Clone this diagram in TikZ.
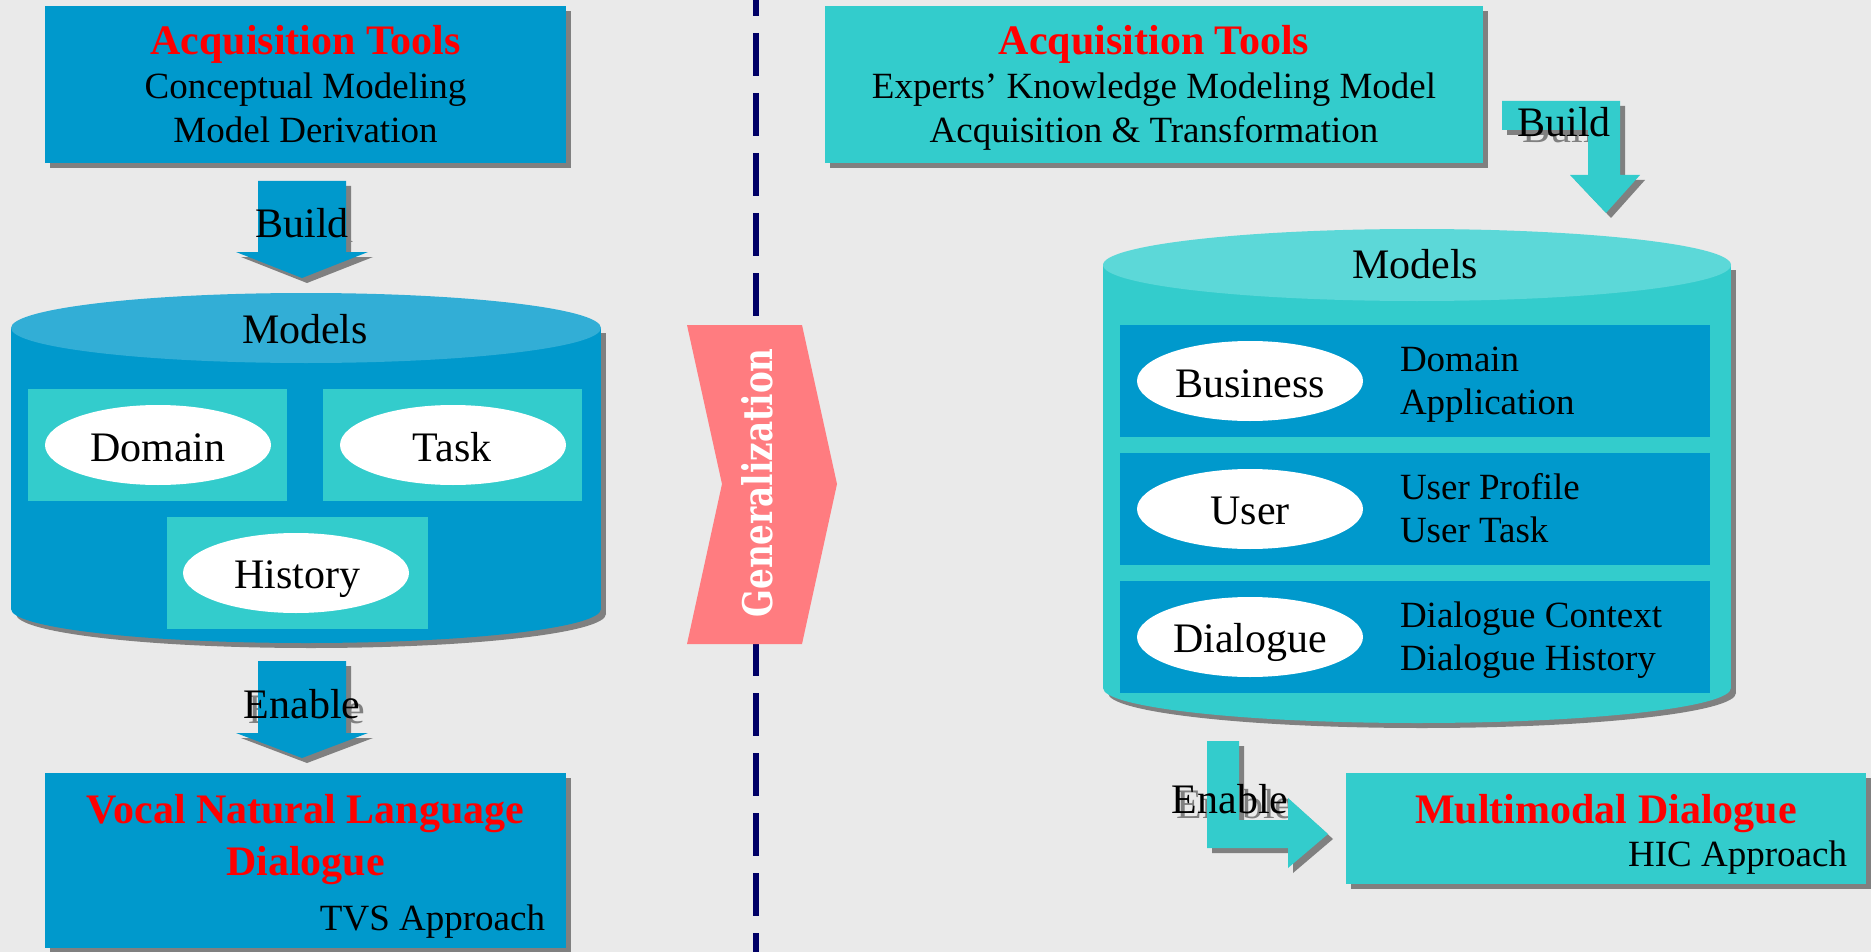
\documentclass[tikz,border=0pt]{standalone}
\usepackage{fontspec}
\setmainfont{Liberation Serif}
\newfontfamily\genfont{DejaVu Serif}
\usetikzlibrary{shadows,shapes.geometric}
\definecolor{bgc}{RGB}{234,234,234}
\definecolor{bluec}{RGB}{0,153,204}
\definecolor{cyanc}{RGB}{51,204,204}
\definecolor{cyltopL}{RGB}{50,174,214}
\definecolor{cyltopR}{RGB}{92,216,216}
\definecolor{shgray}{RGB}{128,128,128}
\definecolor{salmon}{RGB}{255,124,128}
\definecolor{redc}{RGB}{255,0,0}
\definecolor{navyc}{RGB}{0,0,102}
\newcommand\fS{\fontsize{37pt}{44pt}\selectfont}
\newcommand\fL{\fontsize{42pt}{48pt}\selectfont}
\tikzset{
  every node/.style={inner sep=0pt, outer sep=0pt},
  shd/.style={drop shadow={shadow xshift=5pt, shadow yshift=-5pt, fill=shgray, opacity=1}},
  bluebox/.style={rectangle, fill=bluec, shd},
  cyanbox/.style={rectangle, fill=cyanc, shd},
  plainrect/.style={rectangle, minimum height=112pt},
  oval/.style={ellipse, fill=white, minimum width=226pt, minimum height=80pt},
  title/.style={anchor=base, font=\fL\bfseries, text=redc},
  sub/.style={anchor=base, font=\fS},
  big/.style={anchor=base, font=\fL},
  ghost/.style={anchor=base, font=\fL, text=shgray},
}
\begin{document}
\begin{tikzpicture}[x=1pt, y=-1pt]
\fill[bgc] (0,0) rectangle (1871,952);
\useasboundingbox (0,0) rectangle (1871,952);

% dashed separator
\coordinate (septop) at (756,0);
\coordinate (sepbot) at (756,952);
\draw[navyc, line width=6pt, dash pattern=on 43pt off 17pt, dash phase=27pt] (septop) -- (sepbot);

% ===== LEFT =====
\node[bluebox, minimum width=521pt, minimum height=157pt] (tlbox) at (305.5,84.5) {};
\node[title] (tlT) at (305.5,55) {Acquisition Tools};
\node[sub] (tl1) at (305.5,99) {Conceptual Modeling};
\node[sub] (tl2) at (305.5,143) {Model Derivation};

% Build arrow (left)
\node[ghost] (bLg) at (307,242) {Build};
\fill[bluec, shd] (258,181) -- (346,181) -- (346,252) -- (368,252) -- (302,278) -- (236,252) -- (258,252) -- cycle;
\node[big] (bL) at (302,237) {Build};

% cylinder (left)
\fill[shgray] (16,333) rectangle (606,614);
\fill[shgray] (311,614) ellipse[x radius=295, y radius=34];
\fill[bluec] (11,328) rectangle (601,609);
\fill[bluec] (306,609) ellipse[x radius=295, y radius=34];
\fill[cyltopL] (306,328) ellipse[x radius=295, y radius=35];
\node[big] (mL) at (305,343) {Models};

\node[plainrect, fill=cyanc, minimum width=259pt] (rDom) at (157.5,445) {};
\node[plainrect, fill=cyanc, minimum width=259pt] (rTask) at (452.5,445) {};
\node[plainrect, fill=cyanc, minimum width=261pt] (rHist) at (297.5,573) {};
\node[oval] (eDom) at (158,445) {};
\node[oval] (eTask) at (453,445) {};
\node[oval] (eHist) at (296,573) {};
\node[big] (tDom) at (158,461) {Domain};
\node[big] (tTask) at (452,461) {Task};
\node[big] (tHist) at (297,588) {History};

% Enable arrow (left)
\node[ghost] (eLg) at (307,723) {Enable};
\fill[bluec, shd] (258,661) -- (346,661) -- (346,733) -- (368,733) -- (302,758) -- (236,733) -- (258,733) -- cycle;
\node[big] (eL) at (302,718) {Enable};

\node[bluebox, minimum width=521pt, minimum height=175pt] (blbox) at (305.5,860.5) {};
\node[title] (blT1) at (305.5,823) {Vocal Natural Language};
\node[title] (blT2) at (305.5,875) {Dialogue};
\node[sub, anchor=base east] (blS) at (545,930) {TVS Approach};

% ===== GENERALIZATION =====
\fill[salmon] (687,325) -- (802,325) -- (837,484) -- (802,644) -- (687,644) -- (722,484) -- cycle;
\node[rotate=90, text=white] (gen) at (757,483) {\resizebox{269pt}{31pt}{\genfont\bfseries Generalization}};

% ===== RIGHT =====
\node[cyanbox, minimum width=658pt, minimum height=157pt] (trbox) at (1154,84.5) {};
\node[title] (trT) at (1154,55) {Acquisition Tools};
\node[sub] (tr1) at (1154,99) {Experts’ Knowledge Modeling Model};
\node[sub] (tr2) at (1154,143) {Acquisition \& Transformation};

% Build arrow (right)
\node[ghost] (bRg) at (1569,143) {Build};
\fill[cyanc, shd] (1502,101) -- (1620,101) -- (1620,175) -- (1640,175) -- (1606,213) -- (1570,175) -- (1588,175) -- (1588,130) -- (1502,130) -- cycle;
\node[big] (bR) at (1564,137) {Build};

% cylinder (right)
\fill[shgray] (1108,270) rectangle (1736,693);
\fill[shgray] (1422,693) ellipse[x radius=314, y radius=35];
\fill[cyanc] (1103,265) rectangle (1731,688);
\fill[cyanc] (1417,688) ellipse[x radius=314, y radius=35];
\fill[cyltopR] (1417,265) ellipse[x radius=314, y radius=36];
\node[big] (mR) at (1415,278) {Models};

\node[plainrect, fill=bluec, minimum width=590pt] (rBus) at (1415,381) {};
\node[plainrect, fill=bluec, minimum width=590pt] (rUser) at (1415,509) {};
\node[plainrect, fill=bluec, minimum width=590pt] (rDia) at (1415,637) {};
\node[oval] (eBus) at (1250,381) {};
\node[oval] (eUser) at (1250,509) {};
\node[oval] (eDia) at (1250,637) {};
\node[big] (tBus) at (1250,397) {Business};
\node[big] (tUser) at (1250,524) {User};
\node[big] (tDia) at (1250,652) {Dialogue};
\node[sub, anchor=base west] (d1) at (1400,371) {Domain};
\node[sub, anchor=base west] (d2) at (1400,414) {Application};
\node[sub, anchor=base west] (u1) at (1400,499) {User Profile};
\node[sub, anchor=base west] (u2) at (1400,542) {User Task};
\node[sub, anchor=base west] (g1) at (1400,627) {Dialogue Context};
\node[sub, anchor=base west] (g2) at (1400,670) {Dialogue History};

% Enable arrow (right)
\node[ghost] (eRg) at (1235,818) {Enable};
\fill[cyanc, shd] (1207,741) -- (1239,741) -- (1239,820) -- (1288,820) -- (1288,798) -- (1328,834) -- (1288,868) -- (1288,848) -- (1207,848) -- cycle;
\node[big] (eR) at (1230,813) {Enable};

\node[cyanbox, minimum width=520pt, minimum height=111pt] (brbox) at (1606,828.5) {};
\node[title] (brT) at (1606,823) {Multimodal Dialogue};
\node[sub, anchor=base east] (brS) at (1847,866) {HIC Approach};
\end{tikzpicture}
\end{document}
